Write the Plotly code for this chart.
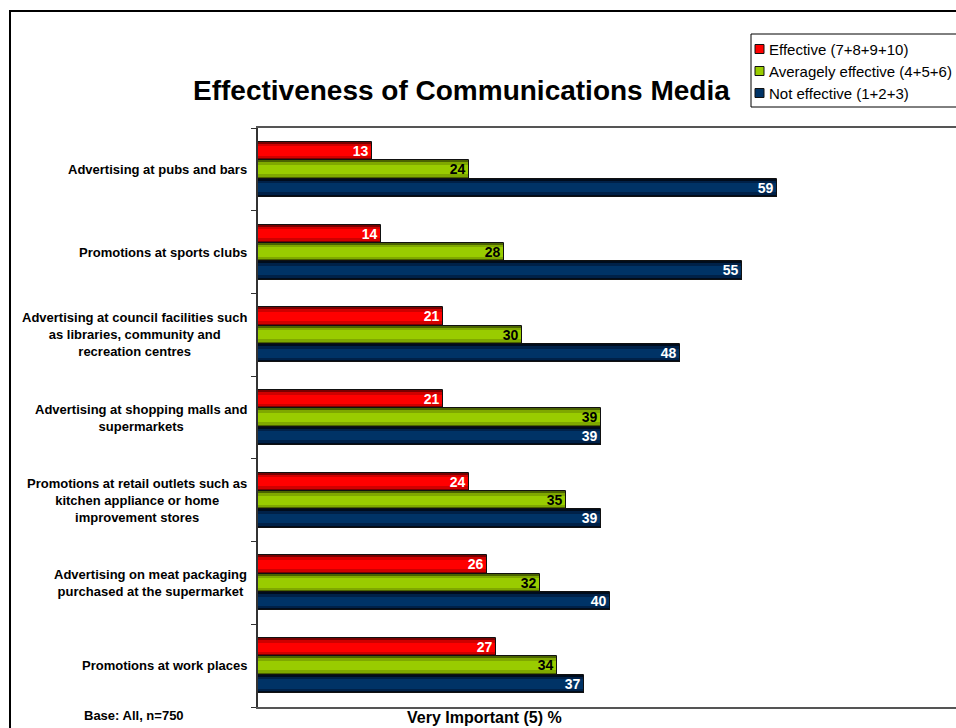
import plotly.graph_objects as go

# ---- data ----
categories = [
    "Advertising at pubs and bars",
    "Promotions at sports clubs",
    "Advertising at council facilities such<br>as libraries, community and<br>recreation centres",
    "Advertising at shopping malls and<br>supermarkets",
    "Promotions at retail outlets such as<br>kitchen appliance or home<br>improvement stores",
    "Advertising on meat packaging<br>purchased at the supermarket",
    "Promotions at work places",
]
effective = [13, 14, 21, 21, 24, 26, 27]
averagely_effective = [24, 28, 30, 39, 35, 32, 34]
not_effective = [59, 55, 48, 39, 39, 40, 37]
series_names = ["Effective (7+8+9+10)", "Averagely effective (4+5+6)", "Not effective (1+2+3)"]

title_text = "Effectiveness of Communications Media"
x_title = "Very Important (5) %"
base_note = "Base: All, n=750"

# ---- styling ----
FONT = "Arial, Liberation Sans, sans-serif"
W, H = 956, 728
L, R, T, B = 258, 0, 128, 21
PW, PH = W - L - R, H - T - B
PX_PER_UNIT = 8.8
X_MAX = PW / PX_PER_UNIT

# (dark edge, mid, bright centre, label colour)
palettes = [
    ("#7a0000", "#d00000", "#ff0000", "white"),
    ("#4a6300", "#7fa800", "#99cc00", "black"),
    ("#000c1c", "#002148", "#003366", "white"),
]
BAR_W = 0.222
offsets = [-BAR_W, 0.0, BAR_W]


def px(x):
    return (x - L) / PW


def py(y):
    return (T + PH - y) / PH


fig = go.Figure()
all_series = [effective, averagely_effective, not_effective]
for s, (vals, pal, off) in enumerate(zip(all_series, palettes, offsets)):
    ys = [i + off for i in range(len(vals))]
    dark, mid, bright, lab = pal
    # shaded body: dark edges, lighter centre
    for col, frac in ((dark, 1.0), (mid, 0.78), (bright, 0.5)):
        fig.add_trace(go.Bar(
            x=vals, y=ys, orientation="h", width=BAR_W * frac,
            marker=dict(color=col, line=dict(width=0)),
            showlegend=False, hoverinfo="skip",
        ))
    # outline + value label
    fig.add_trace(go.Bar(
        x=vals, y=ys, orientation="h", width=BAR_W,
        marker=dict(color="rgba(0,0,0,0)", line=dict(color="#111111", width=1)),
        text=[str(v) for v in vals], textposition="inside", insidetextanchor="end",
        textangle=0,
        textfont=dict(family=FONT, size=14, color=lab, weight="bold"),
        constraintext="none", name=series_names[s], showlegend=False,
        hovertemplate="%{x}<extra>" + series_names[s] + "</extra>",
    ))

annotations = []
# category labels, centred lines, right-aligned block
for i, cat in enumerate(categories):
    annotations.append(dict(
        text=cat, xref="paper", yref="y", x=px(249), y=i,
        xanchor="right", yanchor="middle", align="center", showarrow=False,
        font=dict(family=FONT, size=13, color="black", weight="bold"),
    ))

annotations.append(dict(
    text=title_text, xref="paper", yref="paper", x=px(461), y=py(90),
    xanchor="center", yanchor="middle", showarrow=False,
    font=dict(family=FONT, size=28, color="black", weight="bold"),
))
annotations.append(dict(
    text=x_title, xref="paper", yref="paper", x=px(484), y=py(717),
    xanchor="center", yanchor="middle", showarrow=False,
    font=dict(family=FONT, size=16, color="black", weight="bold"),
))
annotations.append(dict(
    text=base_note, xref="paper", yref="paper", x=px(82), y=py(715),
    xanchor="left", yanchor="middle", showarrow=False,
    font=dict(family=FONT, size=13, color="black", weight="bold"),
))

shapes = [
    # outer frame
    dict(type="rect", xref="paper", yref="paper", x0=px(10), y0=py(740),
         x1=px(970), y1=py(11), line=dict(color="black", width=2), layer="below"),
    # legend box
    dict(type="rect", xref="paper", yref="paper", x0=px(751), y0=py(107),
         x1=px(975), y1=py(34), line=dict(color="black", width=1),
         fillcolor="white", layer="above"),
]
legend_y = [49, 71, 93]
for s, name in enumerate(series_names):
    cy = legend_y[s]
    shapes.append(dict(
        type="rect", xref="paper", yref="paper", x0=px(755), x1=px(764),
        y0=py(cy + 4.5), y1=py(cy - 4.5), fillcolor=palettes[s][2],
        line=dict(color="#111111", width=1), layer="above",
    ))
    annotations.append(dict(
        text=name, xref="paper", yref="paper", x=px(767), y=py(cy),
        xanchor="left", yanchor="middle", showarrow=False,
        font=dict(family=FONT, size=15, color="black"),
    ))

fig.update_layout(
    width=W, height=H,
    margin=dict(l=L, r=R, t=T, b=B),
    paper_bgcolor="white", plot_bgcolor="white",
    barmode="overlay", bargap=0,
    showlegend=False,
    annotations=annotations, shapes=shapes,
    xaxis=dict(range=[0, X_MAX], showgrid=False, zeroline=False,
               showticklabels=False, ticks="", showline=True, mirror=True,
               linecolor="#555555", linewidth=2, fixedrange=True),
    yaxis=dict(range=[len(categories) - 0.5, -0.5], showgrid=False, zeroline=False,
               tickvals=[i - 0.5 for i in range(len(categories) + 1)],
               ticktext=[""] * (len(categories) + 1),
               ticks="outside", ticklen=5, tickcolor="#333333", tickwidth=1,
               showline=True, linecolor="#333333", linewidth=1.5, fixedrange=True),
)

fig.write_html("out.html")
